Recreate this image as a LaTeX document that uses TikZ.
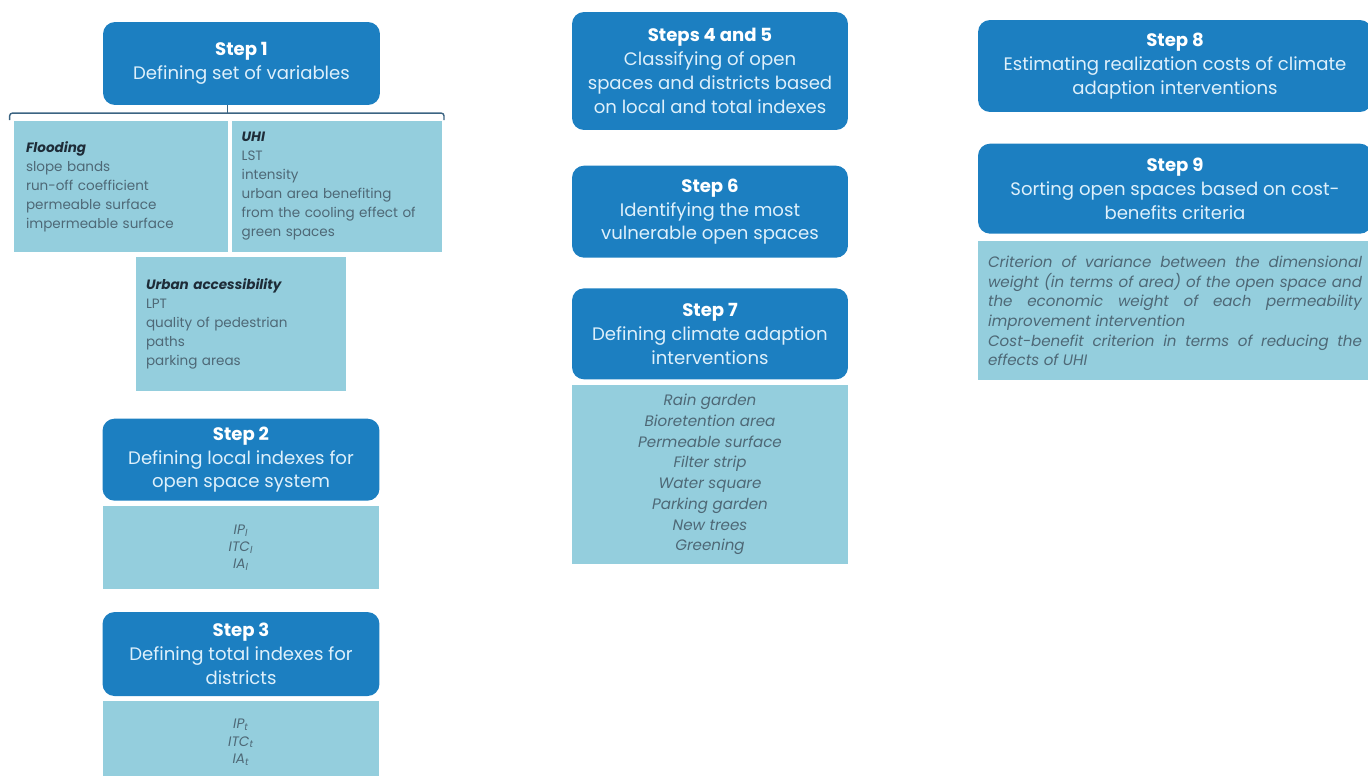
\documentclass[tikz,border=0pt]{standalone}
\usepackage{fontspec}
\setmainfont{Poppins}
\usetikzlibrary{positioning}
\definecolor{stepblue}{RGB}{28,127,193}
\definecolor{paleblue}{RGB}{148,206,221}
\definecolor{steptext}{RGB}{222,240,251}
\definecolor{listtext}{RGB}{78,104,118}
\definecolor{headtext}{RGB}{30,44,56}
\definecolor{bracecol}{RGB}{60,100,130}
\tikzstyle{stepbox} = [rectangle, rounded corners=0.24cm, fill=stepblue, text=steptext, align=center, inner sep=0pt, font={\fontsize{10.3}{13.6}\selectfont}]
\tikzstyle{varbox} = [rectangle, fill=paleblue, text=listtext, align=left, inner ysep=0pt, inner xsep=0.2cm, text width=3.8cm, font={\fontsize{7.7}{10.8}\selectfont}]
\tikzstyle{idxbox} = [rectangle, fill=paleblue, text=listtext, align=center, minimum width=5.54cm, minimum height=1.66cm, font={\fontsize{7.8}{9.8}\selectfont\itshape}]
\tikzstyle{listbox} = [rectangle, fill=paleblue, text=listtext, align=center, font={\fontsize{8.6}{11.8}\selectfont\itshape}]
\tikzstyle{critbox} = [rectangle, fill=paleblue, text=listtext, align=justify, inner ysep=0pt, inner xsep=0.2cm, text width=7.48cm, font={\fontsize{8.6}{11.2}\selectfont\itshape}]
\tikzstyle{bracket} = [bracecol, line width=0.8pt, rounded corners=1.5pt]
\newcommand{\steptitle}[1]{{\color{white}\bfseries #1}}
\newcommand{\varhead}[1]{{\color{headtext}\bfseries\itshape #1}}

\begin{document}
\begin{tikzpicture}[x=0.02cm, y=-0.02cm]
    \useasboundingbox (0,0) rectangle (1368,776);
    % left column: steps 1 to 3
    \node[stepbox, minimum width=5.54cm, minimum height=1.66cm] (step1) at (241.5,63.5) {\steptitle{Step 1}\\Defining set of variables};
    \node[varbox, minimum height=2.64cm, inner xsep=0.24cm] (flood) at (121,186.5) {\varhead{Flooding}\\slope bands\\run-off coefficient\\permeable surface\\impermeable surface};
    \node[varbox, minimum height=2.64cm, right=0.06cm of flood] (uhi) {\varhead{UHI}\\LST\\intensity\\urban area benefiting\\from the cooling effect of\\green spaces};
    \node[varbox, minimum height=2.68cm] (urban) at (241,324) {\varhead{Urban accessibility}\\LPT\\quality of pedestrian\\paths\\parking areas};
    \node[stepbox, minimum width=5.54cm, minimum height=1.64cm, below=0.54cm of urban] (step2) {\steptitle{Step 2}\\Defining local indexes for\\open space system};
    \node[idxbox, below=0.1cm of step2] (idx2) {IP\textsubscript{l}\\ITC\textsubscript{l}\\IA\textsubscript{l}};
    \node[stepbox, minimum width=5.54cm, minimum height=1.68cm, below=0.44cm of idx2] (step3) {\steptitle{Step 3}\\Defining total indexes for\\districts};
    \node[idxbox, below=0.08cm of step3] (idx3) {IP\textsubscript{t}\\ITC\textsubscript{t}\\IA\textsubscript{t}};

    \coordinate (brL) at ([xshift=-0.08cm]flood.north west);
    \coordinate (brR) at ([xshift=0.04cm]uhi.north east);
    \draw[bracket] (brL) -- ++(0,0.14cm) -- ([yshift=0.14cm]brR) -- (brR);
    \draw[bracket] ([xshift=-0.28cm]step1.south) -- ++(0,-0.16cm);

    % middle column: steps 4 to 7
    \node[stepbox, minimum width=5.52cm, minimum height=2.36cm] (step45) at (710,71) {\steptitle{Steps 4 and 5}\\Classifying of open\\spaces and districts based\\on local and total indexes};
    \node[stepbox, minimum width=5.52cm, minimum height=1.84cm, below=0.7cm of step45] (step6) {\steptitle{Step 6}\\Identifying the most\\vulnerable open spaces};
    \node[stepbox, minimum width=5.52cm, minimum height=1.82cm, below=0.6cm of step6] (step7) {\steptitle{Step 7}\\Defining climate adaption\\interventions};
    \node[listbox, minimum width=5.52cm, minimum height=3.58cm, below=0.1cm of step7] (adapt) {Rain garden\\Bioretention area\\Permeable surface\\Filter strip\\Water square\\Parking garden\\New trees\\Greening};

    % right column: steps 8 and 9
    \node[stepbox, minimum width=7.88cm, minimum height=1.84cm] (step8) at (1175,66) {\steptitle{Step 8}\\Estimating realization costs of climate\\adaption interventions};
    \node[stepbox, minimum width=7.88cm, minimum height=1.8cm, below=0.62cm of step8] (step9) {\steptitle{Step 9}\\Sorting open spaces based on cost-\\benefits criteria};
    \node[critbox, minimum height=2.78cm, below=0.14cm of step9] (crit) {Criterion of variance between the dimensional\linebreak weight (in terms of area) of the open space and\linebreak the economic weight of each permeability\linebreak improvement intervention\\Cost-benefit criterion in terms of reducing the\linebreak effects of UHI};
\end{tikzpicture}
\end{document}
